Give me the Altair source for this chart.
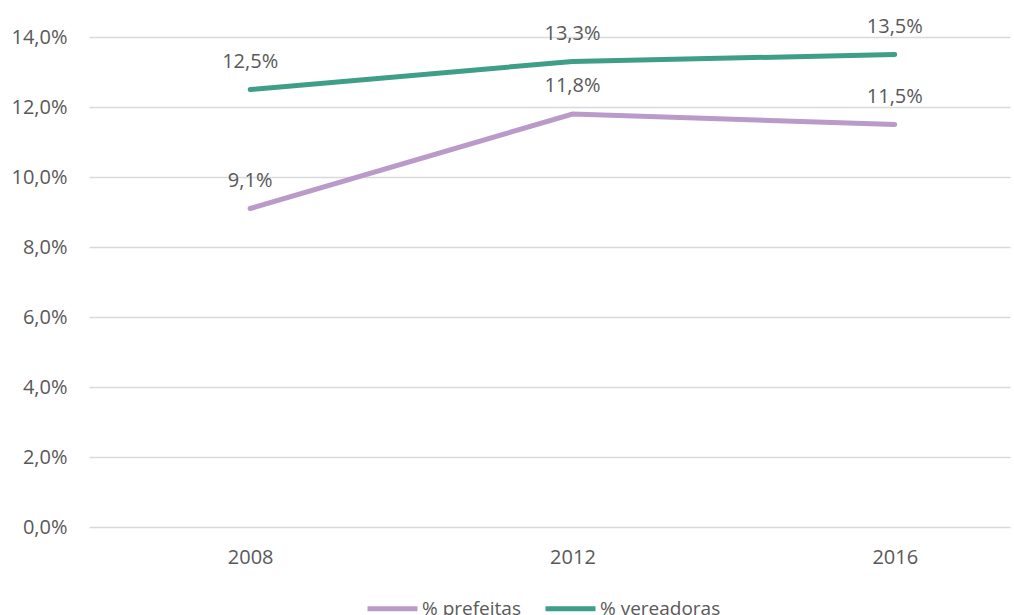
import altair as alt
import pandas as pd

years = [2008, 2012, 2016]
prefeitas = [9.1, 11.8, 11.5]
vereadoras = [12.5, 13.3, 13.5]
series_names = ["% prefeitas", "% vereadoras"]
colors = ["#b99ac9", "#3f9e87"]

rows = []
for y, v in zip(years, prefeitas):
    rows.append({"ano": y, "valor": v / 100, "serie": series_names[0]})
for y, v in zip(years, vereadoras):
    rows.append({"ano": y, "valor": v / 100, "serie": series_names[1]})
df = pd.DataFrame(rows)

FONT = "Open Sans"
TXT = "#595959"

x = alt.X("ano:Q", scale=alt.Scale(domain=[2006, 2017.43], nice=False, zero=False),
          axis=alt.Axis(values=years, format="d", title=None, grid=False, domain=False,
                        ticks=False, labelPadding=20, labelFontSize=20, labelColor=TXT,
                        labelFont=FONT))
y = alt.Y("valor:Q", scale=alt.Scale(domain=[0, 0.14], nice=False),
          axis=alt.Axis(values=[0, 0.02, 0.04, 0.06, 0.08, 0.10, 0.12, 0.14],
                        labelExpr="replace(format(datum.value, '.1%'), '.', ',')",
                        title=None, domain=False, ticks=False, labelPadding=22,
                        labelFontSize=20, labelColor=TXT, labelFont=FONT,
                        gridColor="#d9d9d9", gridWidth=1.5))
color = alt.Color("serie:N", scale=alt.Scale(domain=series_names, range=colors),
                  legend=alt.Legend(title=None, orient="none", direction="horizontal",
                                    legendX=276, legendY=544, symbolType="stroke",
                                    symbolSize=2500, symbolStrokeWidth=5,
                                    labelFontSize=19, labelColor=TXT, labelFont=FONT,
                                    columnPadding=14, labelOffset=2))

lines = alt.Chart(df).mark_line(strokeWidth=5, strokeCap="round").encode(x=x, y=y, color=color)
labels = alt.Chart(df).transform_calculate(
    lab="replace(format(datum.valor, '.1%'), '.', ',')"
).mark_text(fontSize=20, font=FONT, color=TXT, baseline="alphabetic", dy=-22).encode(
    x="ano:Q", y="valor:Q", text="lab:N")

chart = (lines + labels).properties(
    width=921, height=490,
    background="white",
    autosize=alt.AutoSizeParams(type="none"),
    padding={"left": 89, "top": 37, "right": 4, "bottom": 88},
).configure_view(stroke=None)

chart.save("out.html", embed_options={"renderer": "svg", "actions": False})
